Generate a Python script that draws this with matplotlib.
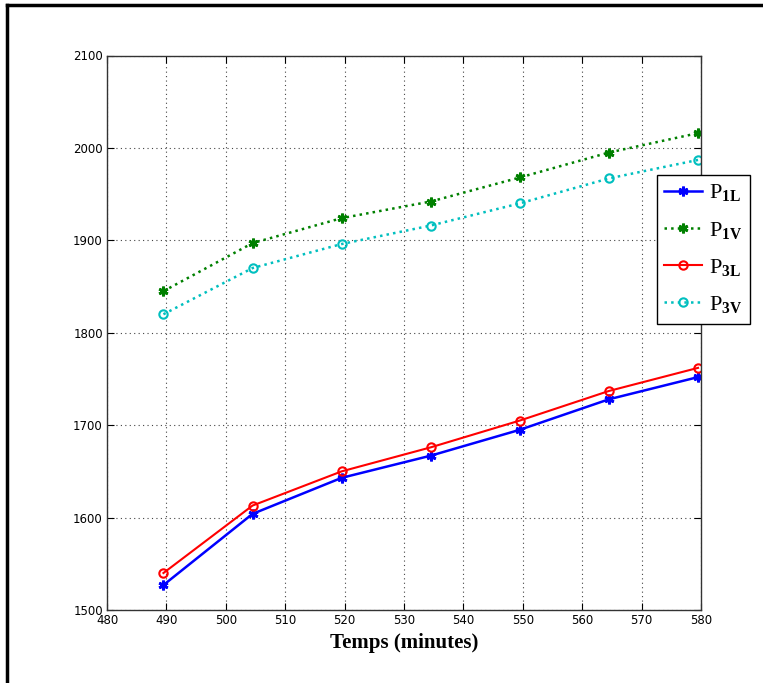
import numpy as np
import matplotlib
matplotlib.use("Agg")
import matplotlib.pyplot as plt
from matplotlib.lines import Line2D

plt.rcParams['mathtext.fontset'] = 'custom'
plt.rcParams['mathtext.rm'] = 'Liberation Serif'
plt.rcParams['mathtext.bf'] = 'Liberation Serif:bold'

# data
temps = [489.5, 504.5, 519.5, 534.5, 549.5, 564.5, 579.5]
p1l = [1527, 1604, 1643, 1667, 1695, 1728, 1752]
p1v = [1845, 1897, 1924, 1942, 1968, 1995, 2016]
p3l = [1540, 1613, 1650, 1676, 1705, 1737, 1762]
p3v = [1820, 1870, 1896, 1916, 1940, 1967, 1987]
labels = [r'$\mathrm{P}_{\mathbf{1L}}$', r'$\mathrm{P}_{\mathbf{1V}}$',
          r'$\mathrm{P}_{\mathbf{3L}}$', r'$\mathrm{P}_{\mathbf{3V}}$']

fig = plt.figure(figsize=(7.63, 6.83), dpi=100)
ax = fig.add_axes([107/763, 1 - 610/683, 594/763, (610 - 55.5)/683])

star = (6, 2, 0)
ax.plot(temps, p1l, color='blue', ls='-', lw=1.8, marker=star, ms=7, mew=2, label=labels[0])
ax.plot(temps, p1v, color='green', ls=':', lw=1.8, marker=star, ms=7, mew=2, label=labels[1])
ax.plot(temps, p3l, color='red', ls='-', lw=1.5, marker='o', ms=6, mfc='none', mew=1.5, label=labels[2])
ax.plot(temps, p3v, color='#00BFBF', ls=':', lw=1.8, marker='o', ms=6, mfc='none', mew=1.5, label=labels[3])

ax.set_xlim(480, 580)
ax.set_ylim(1500, 2100)
ax.set_xticks(np.arange(480, 581, 10))
ax.set_yticks(np.arange(1500, 2101, 100))
ax.grid(True, ls=(0, (1, 3)), color='#444444', lw=0.8)
ax.tick_params(direction='in', top=True, right=True, labelsize=8.5, length=5, pad=3)
for lab in ax.get_xticklabels() + ax.get_yticklabels():
    lab.set_family('Liberation Sans Narrow')
for s in ax.spines.values():
    s.set_color('#333333')
    s.set_linewidth(1.0)

ax.set_xlabel('Temps (minutes)', family='Liberation Serif', weight='bold', fontsize=15, labelpad=4)

leg = ax.legend(loc='upper right', bbox_to_anchor=(750/763, 1 - 175/683),
                bbox_transform=fig.transFigure, fancybox=False, framealpha=1,
                edgecolor='black', fontsize=16, handlelength=1.7,
                borderpad=0.35, labelspacing=0.7, handletextpad=0.3, borderaxespad=0)
leg.get_frame().set_linewidth(1.0)

# outer frame (top and left edges)
fig.add_artist(Line2D([7/763, 1], [1 - 5/683, 1 - 5/683], color='black', lw=2.5, transform=fig.transFigure))
fig.add_artist(Line2D([7/763, 7/763], [0, 1 - 5/683], color='black', lw=2.5, transform=fig.transFigure))

plt.savefig('out.png', dpi=100)
